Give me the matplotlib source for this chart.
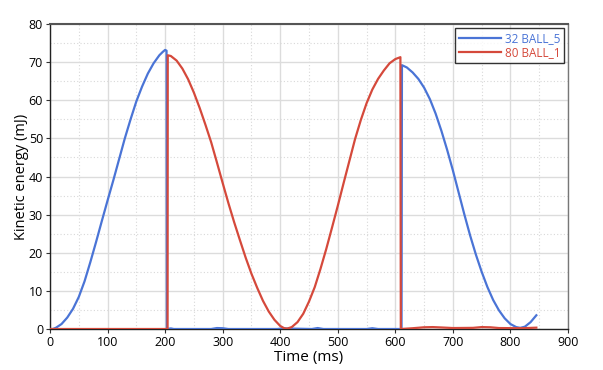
import matplotlib
matplotlib.use("Agg")
import matplotlib.pyplot as plt
from matplotlib.ticker import MultipleLocator

plt.rcParams['font.family'] = ['Open Sans', 'DejaVu Sans']

# 32 BALL_5 (blue)
blue_t = [0, 5, 10, 20, 30, 40, 50, 60, 70, 80, 90, 100, 110, 120, 130, 140, 150,
          160, 170, 180, 190, 196, 200, 202.5, 203, 210, 215, 280, 290,
          300, 310, 395, 405, 455, 465, 475, 550, 560, 570, 600, 610.8, 611.5,
          620, 630, 640, 650, 660, 670, 680, 690, 700, 710, 720, 730, 740, 750,
          760, 770, 780, 790, 800, 810, 817, 825, 835, 845]
blue_e = [0, 0, 0.3, 1.3, 3.0, 5.3, 8.4, 12.5, 17.5, 22.8, 28.3, 33.7, 39, 44.5, 50, 55, 59.7,
          63.6, 67, 69.7, 71.8, 72.7, 73.2, 73, 0, 0.15, 0, 0, 0.25,
          0.2, 0, 0, 0.15, 0, 0.25, 0, 0, 0.2, 0, 0, 0, 69.2,
          68.6, 67.3, 65.6, 63.3, 60.3, 56.5, 52, 47, 41.6, 35.8, 30, 24.5, 19.5, 15,
          11, 7.6, 4.9, 2.8, 1.3, 0.5, 0.3, 0.6, 1.8, 3.6]

# 80 BALL_1 (red)
red_t = [0, 204.3, 204.6, 210, 220, 230, 240, 250, 260, 270, 280, 290, 300, 310,
         320, 330, 340, 350, 360, 370, 380, 390, 400, 407, 412, 420, 430, 440, 450,
         460, 470, 480, 490, 500, 510, 520, 530, 540, 550, 560, 570, 580, 590, 600,
         608.8, 609.5, 630, 650, 665, 680, 700, 735, 750, 765, 780, 820, 845]
red_e = [0, 0, 71.8, 71.6, 70.4, 68.3, 65.5, 62, 58, 53.6, 49, 43.7, 38.3, 33,
         28, 23.3, 18.7, 14.5, 10.8, 7.4, 4.6, 2.4, 0.8, 0.2, 0.1, 0.5, 1.8, 4, 7.2,
         11, 15.8, 21, 26.6, 32.3, 38.2, 44, 49.8, 54.8, 59.2, 62.8, 65.6, 67.8, 69.7, 70.8,
         71.3, 0, 0.2, 0.45, 0.5, 0.4, 0.25, 0.3, 0.5, 0.45, 0.25, 0.2, 0.35]

blue_c = '#4a74d6'
red_c = '#d5493b'

fig = plt.figure(figsize=(6.03, 3.70), dpi=100)
ax = fig.add_axes([50 / 603, 41 / 370, 518 / 603, 305 / 370])

ax.plot(blue_t, blue_e, color=blue_c, lw=1.6, label='32 BALL_5', zorder=3)
ax.plot(red_t, red_e, color=red_c, lw=1.6, label='80 BALL_1', zorder=3)

ax.set_xlim(0, 900)
ax.set_ylim(0, 80)
ax.xaxis.set_major_locator(MultipleLocator(100))
ax.xaxis.set_minor_locator(MultipleLocator(50))
ax.yaxis.set_major_locator(MultipleLocator(10))
ax.yaxis.set_minor_locator(MultipleLocator(5))
ax.grid(which='major', color='#dcdcdc', lw=1.0, ls='-')
ax.grid(which='minor', color='#d8d8d8', lw=0.8, ls=(0, (1, 2)))
ax.set_axisbelow(True)

ax.tick_params(which='major', length=3, width=0.8, labelsize=9, color='#333333', pad=2)
ax.tick_params(which='minor', length=0)
for s in ['left', 'bottom']:
    ax.spines[s].set_color('#222222')
    ax.spines[s].set_linewidth(1.0)
ax.spines['top'].set_color('#555555')
ax.spines['top'].set_linewidth(1.5)
ax.spines['right'].set_color('#777777')
ax.spines['right'].set_linewidth(1.0)

ax.set_xlabel('Time (ms)', fontsize=11, labelpad=1)
ax.set_ylabel('Kinetic energy (mJ)', fontsize=10.5)
ax.yaxis.set_label_coords(-0.040, 0.5)

leg = ax.legend(loc='upper right', fontsize=8.5, frameon=True, fancybox=False,
                edgecolor='black', borderpad=0.3, handlelength=3.6,
                handletextpad=0.3, labelspacing=0.15, borderaxespad=0.35)
leg.get_frame().set_linewidth(1.0)
for txt, c in zip(leg.get_texts(), [blue_c, red_c]):
    txt.set_color(c)

fig.savefig('out.png', dpi=100)
